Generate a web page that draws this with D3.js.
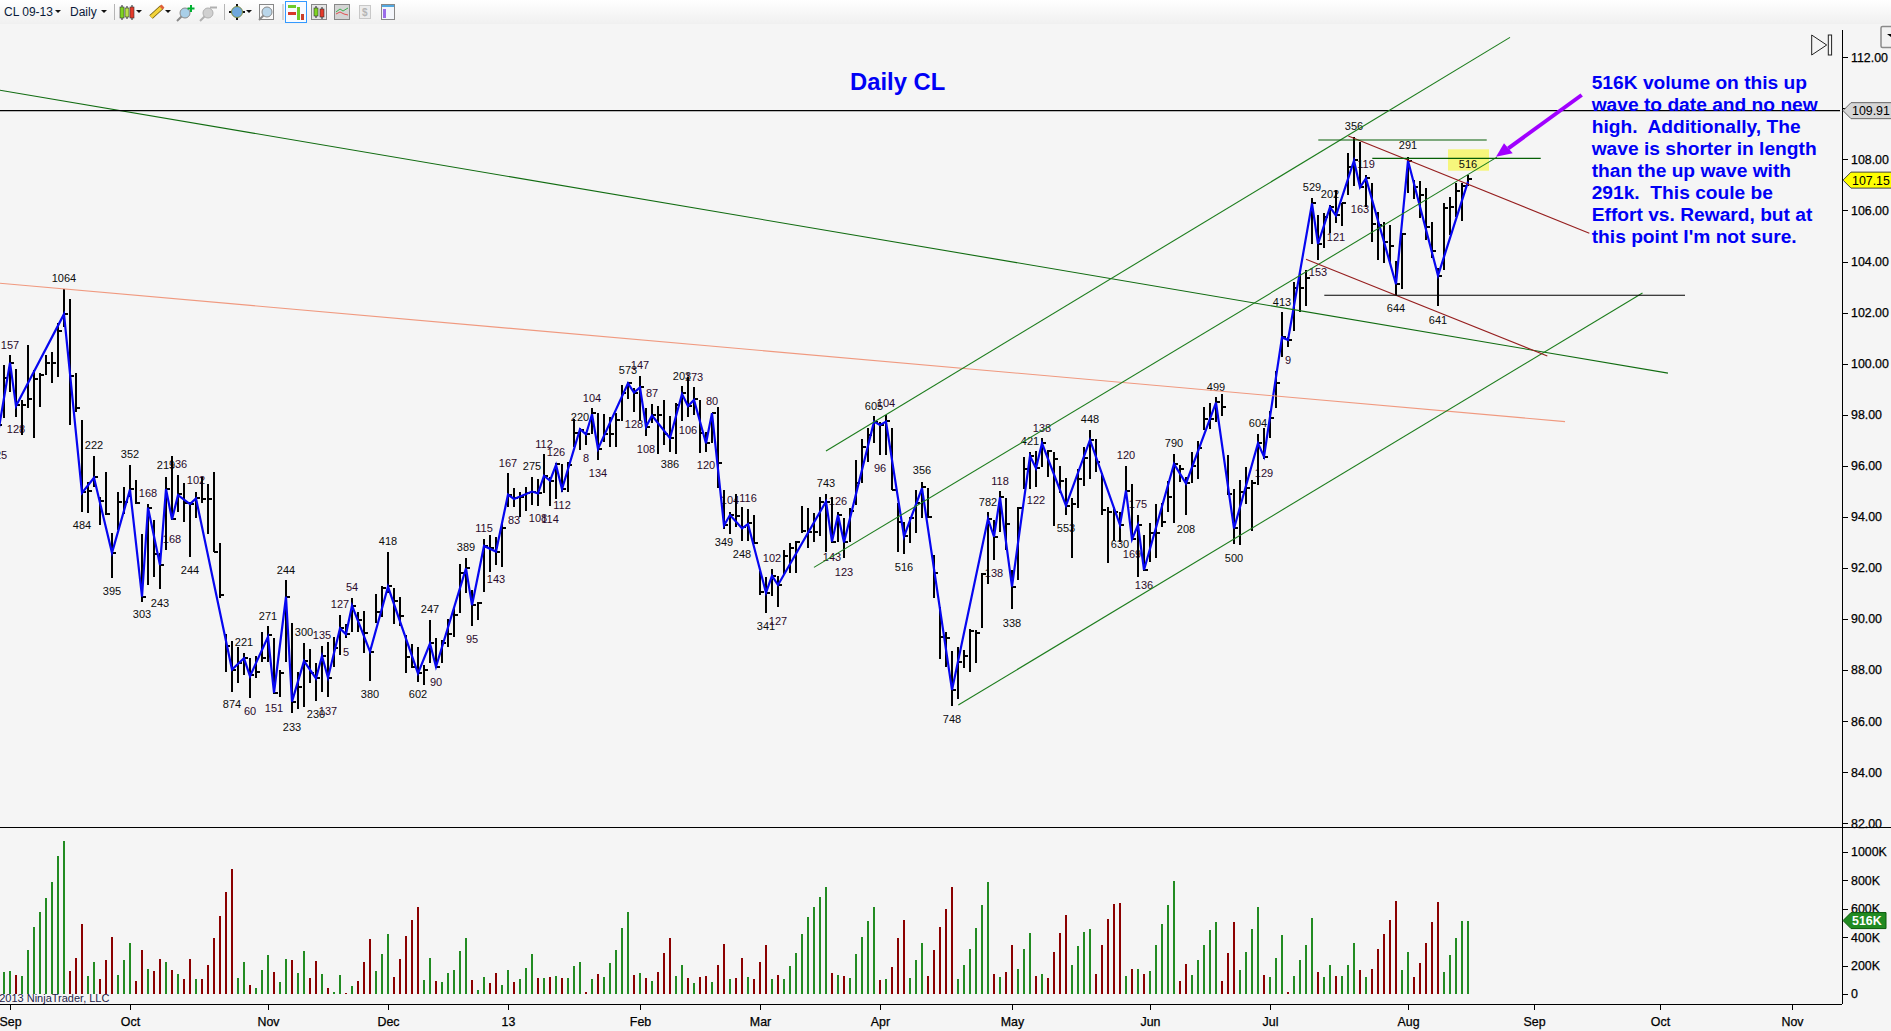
<!DOCTYPE html>
<html>
<head>
<meta charset="utf-8">
<title>Daily CL</title>
<script src="https://cdn.jsdelivr.net/npm/d3@7"></script>
<style>
	html,body{margin:0;padding:0;background:#f5f5f5;overflow:hidden;}
	svg{display:block;}
	text{font-family:"Liberation Sans",Arial,sans-serif;}
</style>
</head>
<body>
<svg id="chart" width="1891" height="1031"></svg>
<script>
'use strict';

//Daily bars, one row per ten bars
var highs = [
	98.57,99.94,100.34,99.79,98.57,100.73,99.75,99.62,100.34,100.47,
	101.58,102.92,102.53,99.62,97.79,95.38,96.38,94.79,95.77,93.35,
	94.98,95.15,96.03,95.44,93.33,94.50,93.87,92.57,95.57,96.38,
	95.64,95.31,94.59,94.98,95.57,95.28,95.74,92.98,89.43,89.15,
	88.91,88.65,88.46,88.55,89.50,89.72,89.24,88.02,91.52,89.85,
	87.93,89.04,88.81,88.26,88.94,89.11,89.30,90.15,89.80,90.81,
	90.26,90.31,88.72,90.98,91.29,92.61,91.20,90.87,89.37,89.02,
	88.91,88.19,89.96,89.24,89.17,89.98,90.45,92.15,92.37,91.13,
	90.68,93.12,93.29,93.20,93.77,95.71,95.12,94.96,95.16,95.55,
	95.48,96.46,95.58,96.10,96.07,96.16,97.82,97.47,97.34,98.25,
	98.08,98.03,97.90,98.06,99.17,99.30,99.04,99.52,98.25,98.42,
	98.34,98.58,97.95,98.45,99.13,99.49,99.07,98.58,97.34,98.06,
	98.29,95.05,94.17,94.88,94.40,94.30,94.07,91.89,91.66,91.95,
	91.69,92.70,92.96,93.07,94.43,94.34,94.14,94.79,94.90,94.79,
	94.17,93.94,94.34,96.23,97.04,97.47,97.95,97.73,97.99,97.47,
	94.53,93.81,94.01,95.05,95.38,95.12,92.51,90.48,89.50,88.76,
	88.92,88.79,89.59,89.57,91.79,94.18,93.88,95.01,94.75,91.92,
	94.40,96.33,96.55,96.59,97.08,96.62,96.55,95.99,95.51,94.73,
	95.86,96.72,97.40,97.04,95.73,94.40,94.37,94.20,95.99,95.29,
	94.07,93.29,93.75,94.50,94.53,95.40,96.46,96.03,95.55,96.55,
	96.98,98.29,98.47,98.68,98.81,96.42,95.08,95.44,95.94,95.44,
	97.23,97.47,98.15,99.73,102.04,101.03,103.18,103.54,103.67,106.48,
	105.83,105.89,106.22,106.80,106.31,108.24,108.87,108.70,107.39,107.07,
	105.96,105.53,105.43,104.02,105.11,108.11,107.20,107.16,106.87,105.56,
	103.74,106.28,106.54,107.07,107.09,107.39
];
var lows = [
	96.75,97.89,98.90,97.92,97.20,98.25,97.07,98.31,99.55,99.25,
	99.49,101.45,97.59,98.12,94.20,94.16,95.18,93.68,94.07,91.59,
	93.48,94.13,94.79,94.50,90.68,91.33,91.65,91.16,92.70,93.87,
	94.20,93.81,92.44,93.94,94.55,93.31,92.61,90.81,87.93,87.15,
	87.48,87.80,86.89,87.67,88.33,88.33,87.05,86.95,88.33,86.30,
	86.46,86.56,87.50,86.80,87.15,86.93,88.10,88.59,89.24,89.50,
	89.50,88.68,87.58,89.85,90.09,91.00,89.80,89.72,87.89,88.06,
	87.54,87.41,88.26,88.06,88.26,88.91,89.30,90.24,91.00,89.72,
	89.96,91.07,91.82,92.12,92.02,94.40,94.40,94.01,94.21,94.47,
	94.44,94.92,94.44,94.70,94.99,94.99,96.75,96.62,96.82,97.25,
	96.23,96.95,96.72,96.75,97.77,98.60,98.12,97.77,97.18,97.66,
	96.45,96.82,96.55,96.46,97.77,97.93,97.99,96.52,96.55,96.91,
	95.12,93.53,93.33,93.62,93.07,93.07,92.96,90.94,90.22,90.91,
	90.46,91.72,91.79,91.79,93.36,92.77,93.03,93.25,92.64,92.96,
	93.03,92.38,93.03,94.47,95.31,96.16,96.91,96.42,96.42,95.05,
	92.64,92.55,92.96,93.38,93.94,93.94,90.81,88.42,88.13,86.60,
	86.85,88.07,87.94,88.26,89.63,91.36,92.31,93.42,92.70,90.38,
	91.53,95.08,95.09,95.16,95.94,95.57,93.64,94.92,94.07,92.38,
	94.33,95.21,95.47,95.77,94.07,92.21,93.07,93.03,94.86,93.09,
	91.66,91.88,92.25,92.40,93.62,94.20,93.75,95.38,94.07,95.34,
	95.47,97.40,97.43,97.73,97.96,94.86,92.94,92.90,94.50,93.46,
	95.25,96.25,97.08,98.25,100.28,100.67,101.26,102.04,102.26,104.69,
	104.06,104.52,105.11,105.50,105.40,106.61,106.94,106.87,106.15,104.78,
	104.06,103.96,103.93,102.69,102.91,106.67,106.44,105.70,104.85,104.13,
	102.24,103.65,105.04,105.76,105.60,106.94
];
var closes = [
	97.59,99.45,100.04,98.38,98.38,98.60,99.41,99.55,100.04,100.01,
	101.29,101.94,99.51,98.26,94.96,95.02,95.57,94.62,94.12,92.59,
	94.59,94.57,95.10,94.55,90.87,94.36,92.54,92.11,95.09,93.90,
	94.88,94.53,94.50,94.72,94.71,94.68,92.61,90.94,88.95,88.02,
	88.26,88.46,87.80,87.93,88.48,89.37,87.11,87.89,90.87,86.76,
	87.35,88.35,87.87,87.67,88.55,87.70,88.87,89.63,89.40,90.52,
	89.96,89.46,88.72,90.28,91.20,91.30,90.71,90.13,88.52,88.13,
	87.87,88.02,89.07,88.13,89.04,89.40,90.15,91.81,92.01,90.54,
	90.64,92.86,92.77,92.64,93.57,94.87,94.73,94.79,94.92,94.99,
	94.92,95.61,95.42,96.06,95.09,96.03,97.27,97.40,97.23,98.06,
	96.66,97.25,97.23,97.80,98.84,99.26,98.87,99.07,97.53,97.97,
	97.97,97.25,97.10,98.38,98.84,98.34,98.62,97.27,96.91,98.06,
	96.12,93.68,94.07,94.05,93.59,93.75,92.96,91.07,91.03,91.69,
	91.33,92.48,92.77,93.03,93.45,93.42,93.42,94.60,94.60,93.03,
	94.07,93.03,94.21,95.34,96.75,97.21,97.73,97.60,97.77,95.05,
	93.81,93.23,93.97,94.53,95.18,94.01,91.81,89.31,89.27,87.22,
	88.33,88.56,89.53,89.46,91.75,93.92,93.22,94.76,93.72,91.27,
	94.33,95.87,96.38,95.90,96.88,96.59,96.27,95.42,94.44,94.50,
	95.47,96.29,97.01,96.16,94.27,94.20,94.20,93.68,95.03,93.12,
	93.68,91.92,93.38,93.38,93.81,94.79,96.07,95.86,95.31,96.00,
	96.68,97.83,97.83,98.51,98.32,94.89,93.55,94.99,95.14,95.31,
	96.88,96.36,97.89,99.26,101.03,100.93,102.95,102.95,103.35,106.31,
	104.69,105.73,106.13,105.83,106.31,107.72,107.98,106.91,107.26,105.47,
	105.43,104.78,104.62,103.11,105.08,107.95,106.91,106.61,105.37,104.43,
	103.45,106.09,106.13,106.78,106.94,107.22
];

//Volume in thousands, and direction of each volume bar
var volumes = [
	200,155,162,133,126,309,471,576,675,787,
	970,1075,162,253,492,126,225,105,239,400,
	133,239,358,91,309,176,162,246,225,169,
	141,105,246,105,105,204,393,548,717,878,
	112,225,63,42,169,274,155,84,246,239,
	148,302,112,232,141,42,14,133,7,56,
	91,225,386,162,281,422,119,246,408,520,
	611,98,253,91,84,148,169,302,393,98,
	28,119,77,148,63,169,84,105,183,281,
	112,112,119,126,112,112,197,225,14,105,
	141,119,218,309,464,576,133,148,112,91,
	155,288,393,126,204,112,77,119,126,84,
	204,351,105,112,253,119,105,225,344,105,
	133,105,197,288,422,541,611,682,752,148,
	133,126,112,281,400,513,611,98,105,190,
	393,520,112,239,358,126,309,471,597,752,
	105,204,316,464,625,787,141,119,155,344,
	176,316,429,126,141,112,295,429,555,204,
	337,436,457,141,344,527,632,639,126,176,
	176,141,162,344,492,625,794,91,211,133,
	239,344,450,506,91,288,506,169,295,457,
	611,133,119,253,415,14,126,239,344,534,
	155,119,204,126,126,204,358,169,119,176,
	316,422,520,653,169,295,119,218,358,506,
	646,155,274,393,516,516
];
var volumeDirs = ('UUUDUUUUUU'+'UUDDDUUDDD'+'UUUDDUDDUD'+'UDDUDDDDDD'+'UUDUUUDUUD'+
	'UUDDUDUUDU'+'DDDUUUDDDD'+'DUUDUUUUUD'+'UUDDUUDUUU'+'DUDUDUUUDU'+
	'DUUUUUDUDU'+'DDDUUDUDDU'+'DDUDDUDDDU'+'DUUUUUUUUD'+'UDUUUUUDUD'+
	'DDUUUDDDDD'+'UUUUUUDUDD'+'UUUDUDDDDU'+'UUUDDDDDUD'+'UDUUUUUDDU'+
	'UUUUDDDUUU'+'UDUUUDUUUU'+'DUUDUUUDUD'+'DDDDUUDDDD'+'DUUUUU').split('');

//Swing line pivots
var zigBars = [0,2,3,11,14,16,19,22,24,25,27,28,29,30,32,33,39,41,42,45,46,48,49,51,53,54,55,57,58,59,62,65,70,72,73,78,79,81,83,85,86,89,90,91,92,93,94,97,98,99,100,105,106,107,108,109,112,114,115,116,118,119,121,122,124,125,128,129,130,138,139,140,141,146,147,148,151,154,159,165,166,167,169,172,173,174,178,182,187,188,189,190,191,196,198,203,206,210,211,214,215,219,220,222,223,226,227,228,233,235,240,245];
var zigPrices = [97.27,100.04,98.34,101.94,94.94,95.53,92.59,95.07,90.87,94.36,92.11,95.09,93.90,94.85,94.50,94.72,88.02,88.46,87.76,89.30,87.11,90.87,86.76,88.35,87.67,88.55,87.70,89.63,89.40,90.52,88.72,91.26,87.87,89.04,88.13,91.98,90.54,92.86,92.64,94.87,94.70,94.99,94.92,95.61,95.42,96.03,95.09,97.43,97.23,98.02,96.66,99.23,98.87,99.07,97.53,97.97,97.08,98.81,98.34,98.58,96.88,98.06,93.66,94.07,93.55,93.72,91.03,91.69,91.33,94.60,93.03,94.07,93.00,97.73,97.60,97.73,93.23,95.12,87.22,93.92,93.22,94.76,91.27,96.38,95.90,96.88,94.44,97.01,93.68,95.03,93.12,93.68,91.92,96.07,95.31,98.47,93.55,96.88,96.36,101.03,100.93,106.28,104.69,106.13,105.80,107.95,106.91,107.26,103.11,107.95,103.45,107.13];

//Wave volume labels
var labelTexts = ['125','157','128','1064','484','222','395','352','303','168','243','219','168','136','244','102','874','221','60','271','151','244','233','300','230','135','137','5','127','54','380','418','602','90','247','95','389',
	'115','143','167','83','275','108','112','114','126','112','220','8','104','134','573','128','147','87','108','386','203','106','173','120','80','349','104','248','116','341','102','127','743','143','126','123','605','96','104','516','356',
	'748','782','138','118','338','421','122','138','553','448','630','120','169','175','136','790','208','499','500','604','129',
	'413','9','153','529','202','121','163','119','356','644','291','641','516'];
var labelBars = [0,2,3,11,14,16,19,22,24,25,27,28,29,30,32,33,39,41,42,45,46,48,49,51,53,54,55,58,57,59,62,65,70,73,72,79,78,
	81,83,85,86,89,90,91,92,93,94,97,98,99,100,105,106,107,109,108,112,114,115,116,118,119,121,122,124,125,128,129,130,138,139,140,141,146,147,148,151,154,
	159,165,166,167,169,172,173,174,178,182,187,188,189,190,191,196,198,203,206,210,211,
	214,215,220,219,222,223,227,228,226,233,235,240,245];
var labelPrices = [96.42,100.73,97.42,103.34,93.68,96.81,91.09,96.46,90.19,94.92,90.64,96.03,93.13,96.07,91.92,95.44,86.67,89.08,86.39,90.11,86.50,91.92,85.75,89.49,86.26,89.37,86.39,88.70,90.58,91.24,87.06,93.05,87.06,87.53,90.39,89.21,92.82,
	93.55,91.57,96.10,93.88,95.99,93.94,96.84,93.90,96.54,94.47,97.90,96.29,98.66,95.71,99.75,97.63,99.95,98.85,96.66,96.07,99.52,97.40,99.49,96.03,98.54,93.02,94.66,92.55,94.73,89.73,92.39,89.92,95.33,92.43,94.62,91.83,98.34,95.91,98.45,92.04,95.84,
	86.08,94.58,91.81,95.40,89.84,96.97,94.66,97.48,93.55,97.83,92.94,96.42,92.55,94.50,91.33,96.89,93.52,99.10,92.39,97.69,95.73,
	102.42,100.15,103.59,106.91,106.64,104.95,106.06,107.82,109.31,102.18,108.57,101.71,107.82];

//Hand drawn lines as start bar, start price, end bar, end price
var trendLines = [
	[0.33,110.71,278.33,99.63],
	[0.33,103.15,261.17,97.73],
	[0,109.91,307,109.91],
	[138,96.58,252,112.78],
	[136,92.02,249.83,108.09],
	[160.05,86.63,274.08,102.77],
	[225.05,108.92,265.22,105.11],
	[218,104.09,258.22,100.30],
	[220.05,108.76,248.12,108.76],
	[229.05,108.04,257.12,108.04],
	[221.05,102.68,281.17,102.68]
];
var trendColours = ['#116c11','#f0997f','#000000','#1d7d1d','#1d7d1d','#1d7d1d','#961f1f','#961f1f','#065f06','#065f06','#000000'];

//Axis ticks
var priceTicks = d3.range(112,80,-2);
var volumeTicks = [0,200,400,600,800,1000];
var monthBars = [2,22,45,65,85,107,127,147,169,192,212,235,256,277,299];
var monthNames = ['Sep','Oct','Nov','Dec','13','Feb','Mar','Apr','May','Jun','Jul','Aug','Sep','Oct','Nov'];

var noteLines = ['516K volume on this up','wave to date and no new','high.  Additionally, The','wave is shorter in length','than the up wave with','291k.  This coule be','Effort vs. Reward, but at',"this point I'm not sure."];

var svg = d3.select('#chart');
var defs = svg.append('defs');

//Scales
var x = d3.scaleLinear().domain([0,1]).range([-2,4]);
var y = d3.scaleLinear().domain([112,82]).range([57.3,823.2]);
var yVol = d3.scaleLinear().domain([0,1000]).range([994,851.7]);
var axisX = 1842, paneY = 827, baseY = 1004;

svg.append('rect').attr('width',1891).attr('height',1031).attr('fill','#f5f5f5');

//Highlight behind the last label
svg.append('rect')
	.attr('x',1448).attr('y',149.3).attr('width',41).attr('height',21.4)
	.attr('fill','#f6f67c');

//Volume bars
svg.append('g').attr('shape-rendering','crispEdges').selectAll('rect').data(volumes).join('rect')
	.attr('x',function(d,i){return x(i)-1;})
	.attr('y',function(d){return yVol(d);})
	.attr('width',2)
	.attr('height',function(d){return yVol(0)-yVol(d);})
	.attr('fill',function(d,i){return volumeDirs[i]==='U' ? '#228b22' : '#8b0000';});

//Volume labels sit under the bars, so bars hide some digits
svg.append('g').selectAll('text').data(labelTexts).join('text')
	.attr('x',function(d,i){return x(labelBars[i]);})
	.attr('y',function(d,i){return y(labelPrices[i]);})
	.attr('dy','0.36em')
	.attr('text-anchor','middle')
	.attr('font-size',11)
	.attr('fill',function(d){return +d<200 ? '#2a082a' : '#0c0c0c';})
	.text(function(d){return d;});

//Price bars
var bars = svg.append('g').attr('stroke','#000').attr('stroke-width',2).attr('shape-rendering','crispEdges');
bars.selectAll('.hl').data(highs).join('line').attr('class','hl')
	.attr('x1',function(d,i){return x(i);})
	.attr('x2',function(d,i){return x(i);})
	.attr('y1',function(d){return y(d);})
	.attr('y2',function(d,i){return y(lows[i]);});
bars.selectAll('.cl').data(closes).join('line').attr('class','cl')
	.attr('x1',function(d,i){return x(i);})
	.attr('x2',function(d,i){return x(i)+4;})
	.attr('y1',function(d){return y(d);})
	.attr('y2',function(d){return y(d);});

//Swing line
var zigLine = d3.line()
	.x(function(d){return x(d);})
	.y(function(d,i){return y(zigPrices[i]);});
svg.append('path')
	.attr('d',zigLine(zigBars))
	.attr('fill','none')
	.attr('stroke','#0606f0')
	.attr('stroke-width',2.2);

//Trend lines
svg.append('g').selectAll('line').data(trendLines).join('line')
	.attr('x1',function(d){return x(d[0]);})
	.attr('y1',function(d){return y(d[1]);})
	.attr('x2',function(d){return x(d[2]);})
	.attr('y2',function(d){return y(d[3]);})
	.attr('stroke',function(d,i){return trendColours[i];})
	.attr('stroke-width',1.1);

//Title and note
svg.append('text').attr('x',850).attr('y',90).attr('font-size',23.8).attr('font-weight','bold').attr('fill','#0000f5').text('Daily CL');
svg.append('g').selectAll('text').data(noteLines).join('text')
	.attr('x',1591.7)
	.attr('y',function(d,i){return 88.7+22*i;})
	.attr('font-size',19.2)
	.attr('font-weight','bold')
	.attr('fill','#0000f5')
	.style('white-space','pre')
	.text(function(d){return d;});

//Purple arrow
svg.append('line').attr('x1',1581.7).attr('y1',95).attr('x2',1508.3).attr('y2',148.3).attr('stroke','#a000ff').attr('stroke-width',4);
svg.append('polygon').attr('points','1496,156.7 1504,143.3 1512.7,153.3').attr('fill','#a000ff');

//Frame lines
var frame = svg.append('g').attr('stroke','#000').attr('stroke-width',1).attr('shape-rendering','crispEdges');
frame.append('line').attr('x1',0).attr('x2',1891).attr('y1',paneY).attr('y2',paneY);
frame.append('line').attr('x1',0).attr('x2',axisX).attr('y1',baseY).attr('y2',baseY);
frame.append('line').attr('x1',axisX).attr('x2',axisX).attr('y1',30).attr('y2',baseY);

//Price axis
var priceAxis = d3.axisRight(y).tickValues(priceTicks).tickSize(6).tickPadding(3).tickFormat(d3.format('.2f'));
var gPrice = svg.append('g').attr('transform','translate('+axisX+',0)').call(priceAxis);
gPrice.select('.domain').remove();

//Volume axis
var volAxis = d3.axisRight(yVol).tickValues(volumeTicks).tickSize(6).tickPadding(3).tickFormat(function(d){return d ? d+'K' : '0';});
var gVol = svg.append('g').attr('transform','translate('+axisX+',0)').call(volAxis);
gVol.select('.domain').remove();

//Month axis
var monthAxis = d3.axisBottom(x).tickValues(monthBars).tickSize(6).tickPadding(7).tickFormat(function(d,i){return monthNames[i];});
var gMonth = svg.append('g').attr('transform','translate(0,'+baseY+')').call(monthAxis);
gMonth.select('.domain').remove();

svg.selectAll('.tick text')
	.attr('font-size',12.4)
	.attr('font-family','"Liberation Sans",Arial,sans-serif')
	.attr('fill','#000')
	.attr('stroke','#000')
	.attr('stroke-width',0.25);
svg.selectAll('.tick line').attr('stroke','#000').attr('shape-rendering','crispEdges');

//Value flags on the axis
var flag = function(yPos,w,fill,stroke,label,colour,bold){
	var h = 8;
	svg.append('polygon')
		.attr('points',[[axisX+1,yPos],[axisX+9,yPos-h],[axisX+9+w,yPos-h],[axisX+9+w,yPos+h],[axisX+9,yPos+h]].join(' '))
		.attr('fill',fill).attr('stroke',stroke);
	svg.append('text').attr('x',axisX+10).attr('y',yPos+4.5).attr('font-size',12.4)
		.attr('font-weight',bold ? 'bold' : 'normal').attr('fill',colour).text(label);
};
flag(y(109.91),45,'#d6d6d6','#666','109.91','#000');
flag(y(107.15)-1,45,'#ffff00','#444','107.15','#000');
flag(yVol(516),35,'#228b22','#0b5a0b','516K','#fff',true);

//Copyright
svg.append('text').attr('x',-12).attr('y',1002).attr('font-size',11).attr('fill','#23234a').text('\u00a9 2013 NinjaTrader, LLC');

//Go-to-end button
svg.append('polygon').attr('points','1811.7,35 1826.7,45 1811.7,55').attr('fill','none').attr('stroke','#222');
svg.append('rect').attr('x',1828.3).attr('y',35).attr('width',3.3).attr('height',20).attr('fill','none').attr('stroke','#222');

//Small corner button
svg.append('rect').attr('x',1881).attr('y',26.5).attr('width',12).attr('height',21).attr('rx',1.5).attr('fill','#f2f2f2').attr('stroke','#8a8a8a').attr('stroke-width',1.5);
svg.append('polygon').attr('points','1887,34 1891,34 1891,37').attr('fill','#000');

//Toolbar
var grad = defs.append('linearGradient').attr('id','tb').attr('x1',0).attr('x2',0).attr('y1',0).attr('y2',1);
grad.append('stop').attr('offset','0%').attr('stop-color','#ffffff');
grad.append('stop').attr('offset','100%').attr('stop-color','#f0f0f0');
var tb = svg.append('g');
tb.append('rect').attr('width',1891).attr('height',24).attr('fill','url(#tb)');
tb.append('text').attr('x',4).attr('y',16).attr('font-size',12).attr('fill','#0a1a3a').text('CL 09-13');
tb.append('text').attr('x',70).attr('y',16).attr('font-size',12).attr('fill','#0a1a3a').text('Daily');

var caret = function(cx){
	tb.append('polygon').attr('points',[[cx-3,10],[cx+3,10],[cx,13]].join(' ')).attr('fill','#111');
};
[58,104,139,168,249].forEach(caret);

[114.5,224.5,283].forEach(function(sx){
	tb.append('line').attr('x1',sx).attr('x2',sx).attr('y1',4).attr('y2',20).attr('stroke','#b5b5b5');
});

var candle = function(cx,y1,h,fill){
	tb.append('line').attr('x1',cx).attr('x2',cx).attr('y1',y1-2).attr('y2',y1+h+2).attr('stroke','#222');
	tb.append('rect').attr('x',cx-2).attr('y',y1).attr('width',4).attr('height',h).attr('fill',fill).attr('stroke','#333').attr('stroke-width',0.6);
};
candle(122,7,11,'#7ed321');
candle(127,8,9,'#b8e04a');
candle(132,7,11,'#e53a2a');

//Pencil
tb.append('line').attr('x1',151).attr('y1',17).attr('x2',162).attr('y2',7).attr('stroke','#6e5a10').attr('stroke-width',5);
tb.append('line').attr('x1',151).attr('y1',17).attr('x2',162).attr('y2',7).attr('stroke','#f3d33a').attr('stroke-width',3.4);
tb.append('line').attr('x1',161).attr('y1',8).attr('x2',163).attr('y2',6).attr('stroke','#e0603a').attr('stroke-width',4);

var glass = function(cx,cy,fill,edge){
	tb.append('line').attr('x1',cx-3).attr('y1',cy+3).attr('x2',cx-8).attr('y2',cy+8).attr('stroke',edge).attr('stroke-width',2);
	tb.append('circle').attr('cx',cx).attr('cy',cy).attr('r',5).attr('fill',fill).attr('stroke',edge);
};
glass(185,13,'#a9cfe8','#8a8a8a');
tb.append('path').attr('d','M191 5V12M187.5 8.5H194.5').attr('stroke','#00b030').attr('stroke-width',2);
glass(208,13,'#d0d0d0','#b0b0b0');
tb.append('line').attr('x1',210).attr('y1',7.5).attr('x2',217).attr('y2',7.5).attr('stroke','#b0b0b0').attr('stroke-width',2);

//Crosshair globe
tb.append('path').attr('d','M237 4V20M229 12H245').attr('stroke','#111').attr('stroke-width',2);
tb.append('circle').attr('cx',237).attr('cy',12).attr('r',5.5).attr('fill','#6fa8dc').attr('stroke','#7a8a40');

tb.append('rect').attr('x',259.5).attr('y',4.5).attr('width',14).attr('height',15).attr('fill','#fafafa').attr('stroke','#888');
glass(267,12,'#b9d6ea','#8a8a8a');

//Selected panel button
tb.append('rect').attr('x',285.5).attr('y',1.5).attr('width',21).attr('height',21).attr('fill','#f8fbff').attr('stroke','#3399ff');
tb.append('rect').attr('x',288).attr('y',5).attr('width',8).attr('height',3).attr('fill','#6ecb2a');
tb.append('rect').attr('x',288).attr('y',12).attr('width',8).attr('height',3).attr('fill','#d8382a');
tb.append('rect').attr('x',297).attr('y',7).attr('width',3).attr('height',13).attr('fill','#6ecb2a');
tb.append('rect').attr('x',301).attr('y',14).attr('width',3).attr('height',6).attr('fill','#c8402a');

tb.append('rect').attr('x',311.5).attr('y',4.5).attr('width',15).attr('height',15).attr('fill','#e6e6e6').attr('stroke','#888');
candle(316,8,8,'#7ed321');
candle(322,9,8,'#e53a2a');

tb.append('rect').attr('x',334.5).attr('y',4.5).attr('width',15).attr('height',15).attr('fill','#d4d4d4').attr('stroke','#888');
tb.append('path').attr('d','M336 12L340 9L343 11L348 8').attr('fill','none').attr('stroke','#3fb050');
tb.append('path').attr('d','M336 14L340 12L344 14L348 15').attr('fill','none').attr('stroke','#e05050');

tb.append('rect').attr('x',359.5).attr('y',5.5).attr('width',11).attr('height',13).attr('fill','#ececec').attr('stroke','#c8c8c8');
tb.append('text').attr('x',362).attr('y',16).attr('font-size',10).attr('font-weight','bold').attr('fill','#b5b5b5').text('$');

tb.append('rect').attr('x',381.5).attr('y',4.5).attr('width',13).attr('height',15).attr('fill','#f4f6fb').attr('stroke','#888');
tb.append('rect').attr('x',382).attr('y',5).attr('width',12).attr('height',2).attr('fill','#52a8e0');
tb.append('rect').attr('x',383).attr('y',9).attr('width',3).attr('height',9).attr('fill','#9a6ce8');
</script>
</body>
</html>
